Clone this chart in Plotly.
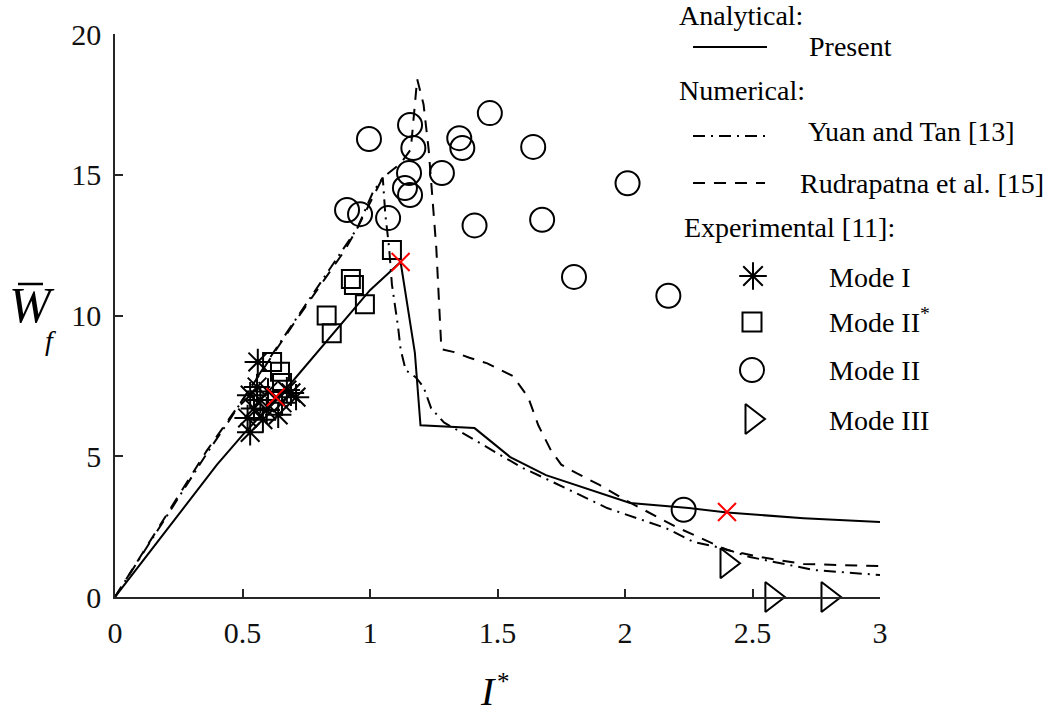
import plotly.graph_objects as go

# ---------------- data ----------------
present_x = [0, 0.4, 0.5, 0.7, 1.0, 1.12, 1.176, 1.198, 1.41, 1.55, 1.69, 1.89, 2.02, 2.25, 2.4, 2.7, 3.0]
present_y = [0, 4.7, 5.75, 7.7, 10.9, 11.9, 8.67, 6.1, 6.0, 4.97, 4.33, 3.73, 3.34, 3.16, 3.0, 2.8, 2.66]

yuan_x = [0, 0.36, 0.45, 0.62, 0.95, 1.01, 1.05, 1.06, 1.075, 1.086, 1.11, 1.12, 1.14, 1.18, 1.21, 1.24,
          1.29, 1.33, 1.41, 1.5, 1.6, 1.69, 1.81, 1.93, 2.16, 2.27, 2.38, 2.49, 2.74, 3.0]
yuan_y = [0, 5.1, 6.3, 8.67, 13.1, 14.35, 14.9, 13.6, 12.4, 11.1, 9.6, 8.8, 8.06, 7.8, 7.46, 6.7,
          6.2, 6.0, 5.58, 5.1, 4.58, 4.2, 3.69, 3.16, 2.45, 1.95, 1.74, 1.42, 0.96, 0.78]

rud_x = [0, 0.36, 0.5, 0.7, 0.9, 0.95, 1.05, 1.12, 1.16, 1.185, 1.21, 1.23, 1.26, 1.28, 1.33, 1.39,
         1.46, 1.56, 1.62, 1.66, 1.71, 1.75, 1.81, 1.9, 2.0, 2.2, 2.4, 2.53, 2.7, 3.0]
rud_y = [0, 5.2, 7.0, 9.7, 12.3, 13.1, 14.9, 15.4, 15.9, 18.4, 17.5, 15.9, 12.4, 8.8, 8.7, 8.5,
         8.3, 7.85, 7.1, 6.1, 5.2, 4.7, 4.4, 3.98, 3.45, 2.49, 1.67, 1.42, 1.17, 1.1]

mode1_x = [0.53, 0.52, 0.545, 0.53, 0.557, 0.56, 0.57, 0.595, 0.64, 0.655, 0.674, 0.69, 0.71, 0.60, 0.58]
mode1_y = [5.85, 6.36, 6.7, 7.17, 7.46, 8.35, 7.0, 6.64, 6.47, 6.9, 7.35, 7.25, 7.1, 7.3, 6.3]

mode2s_x = [0.616, 0.647, 0.655, 0.83, 0.85, 0.925, 0.937, 0.98, 1.086]
mode2s_y = [8.35, 8.0, 7.6, 10.0, 9.37, 11.3, 11.08, 10.4, 12.33]

mode2_x = [0.91, 0.961, 0.996, 1.071, 1.137, 1.153, 1.157, 1.157, 1.17, 1.282, 1.35, 1.362, 1.41,
           1.47, 1.64, 1.675, 1.80, 2.01, 2.17, 2.23]
mode2_y = [13.75, 13.6, 16.27, 13.46, 14.53, 15.06, 14.28, 16.77, 15.95, 15.06, 16.3, 15.95, 13.2,
           17.19, 15.99, 13.4, 11.37, 14.7, 10.7, 3.1]

mode3_x = [2.4, 2.576, 2.796]
mode3_y = [1.2, 0, 0]

redx_x = [0.63, 1.12, 2.4]
redx_y = [7.1, 11.9, 3.02]

x_ticks = [0, 0.5, 1, 1.5, 2, 2.5, 3]
x_ticklabels = ["0", "0.5", "1", "1.5", "2", "2.5", "3"]
y_ticks = [0, 5, 10, 15, 20]
y_ticklabels = ["0", "5", "10", "15", "20"]

legend_labels = ["Present", "Yuan and Tan [13]", "Rudrapatna et al. [15]",
                 "Mode I", "Mode II<sup>*</sup>", "Mode II", "Mode III"]
legend_headers = ["Analytical:", "Numerical:", "Experimental [11]:"]

# ---------------- layout geometry ----------------
W, H = 1049, 715
L, R, T, B = 115, 169, 34, 118
XR = [0, 3]
YR = [0, 20]
PW = W - L - R
PH = H - T - B


def px2x(px):
    return XR[0] + (px - L) / PW * (XR[1] - XR[0])


def py2y(py):
    return YR[0] + (T + PH - py) / PH * (YR[1] - YR[0])


def pxp(px):
    return (px - L) / PW


def pyp(py):
    return (T + PH - py) / PH


FONT = "Liberation Serif, Times New Roman, serif"
BLACK = "#000000"
DASHDOT = "12px,6px,2px,6px"
DASHED = "12px,9px"

fig = go.Figure()

# lines
fig.add_trace(go.Scatter(x=present_x, y=present_y, mode="lines",
                         line=dict(color=BLACK, width=2), showlegend=False))
fig.add_trace(go.Scatter(x=yuan_x, y=yuan_y, mode="lines",
                         line=dict(color=BLACK, width=2, dash=DASHDOT), showlegend=False))
fig.add_trace(go.Scatter(x=rud_x, y=rud_y, mode="lines",
                         line=dict(color=BLACK, width=2, dash=DASHED), showlegend=False))

# markers
mk = dict(mode="markers", showlegend=False, cliponaxis=False)
fig.add_trace(go.Scatter(x=mode1_x, y=mode1_y,
                         marker=dict(symbol="asterisk-open", size=22, color=BLACK,
                                     line=dict(color=BLACK, width=2)), **mk))
fig.add_trace(go.Scatter(x=mode2s_x, y=mode2s_y,
                         marker=dict(symbol="square-open", size=18, color=BLACK,
                                     line=dict(color=BLACK, width=2)), **mk))
fig.add_trace(go.Scatter(x=mode2_x, y=mode2_y,
                         marker=dict(symbol="circle-open", size=24, color=BLACK,
                                     line=dict(color=BLACK, width=2)), **mk))
fig.add_trace(go.Scatter(x=mode3_x, y=mode3_y,
                         marker=dict(symbol="triangle-right-open", size=26, color=BLACK,
                                     line=dict(color=BLACK, width=2)), **mk))
fig.add_trace(go.Scatter(x=redx_x, y=redx_y,
                         marker=dict(symbol="x-thin-open", size=18, color="red",
                                     line=dict(color="red", width=2)), **mk))

# ---------------- manual legend ----------------
leg_lines = [(693, 767, 47, None), (693, 770, 136, DASHDOT), (693, 765, 183, DASHED)]
for x0, x1, yy, dsh in leg_lines:
    fig.add_trace(go.Scatter(x=[px2x(x0), px2x(x1)], y=[py2y(yy), py2y(yy)], mode="lines",
                             line=dict(color=BLACK, width=2, dash=dsh), showlegend=False, hoverinfo="skip"))

leg_syms = [("asterisk-open", 23, 753, 276), ("square-open", 19, 752, 322),
            ("circle-open", 24, 752, 370), ("triangle-right-open", 26, 752, 419)]
for sym, sz, sx, sy in leg_syms:
    fig.add_trace(go.Scatter(x=[px2x(sx)], y=[py2y(sy)], mode="markers", cliponaxis=False,
                             marker=dict(symbol=sym, size=sz, color=BLACK, line=dict(color=BLACK, width=2)),
                             showlegend=False, hoverinfo="skip"))

annotations = []
hdr_pos = [(677, 15), (677, 90), (682, 227)]
lab_pos = [(807, 47), (806, 131), (798, 183), (827, 277), (827, 320), (827, 370), (827, 420)]
for txt, (ax, ay) in list(zip(legend_headers, hdr_pos)) + list(zip(legend_labels, lab_pos)):
    annotations.append(dict(text=txt, x=pxp(ax), y=pyp(ay), xref="paper", yref="paper",
                            xanchor="left", yanchor="middle", showarrow=False,
                            font=dict(family=FONT, size=28, color=BLACK)))

# axis titles
annotations.append(dict(text="<i>I</i>", x=pxp(488), y=pyp(691), xref="paper", yref="paper",
                        xanchor="center", yanchor="middle", showarrow=False,
                        font=dict(family=FONT, size=40, color=BLACK)))
annotations.append(dict(text="*", x=pxp(503), y=pyp(681), xref="paper", yref="paper",
                        xanchor="center", yanchor="middle", showarrow=False,
                        font=dict(family=FONT, size=25, color=BLACK)))
annotations.append(dict(text="<i>W</i>", x=pxp(32), y=pyp(305), xref="paper", yref="paper",
                        xanchor="center", yanchor="middle", showarrow=False,
                        font=dict(family=FONT, size=50, color=BLACK)))
annotations.append(dict(text="<i>f</i>", x=pxp(50), y=pyp(340), xref="paper", yref="paper",
                        xanchor="center", yanchor="middle", showarrow=False,
                        font=dict(family=FONT, size=28, color=BLACK)))

shapes = [dict(type="line", xref="paper", yref="paper", x0=pxp(18), x1=pxp(43), y0=pyp(284), y1=pyp(284),
               line=dict(color=BLACK, width=2.5))]

axis_common = dict(showgrid=False, zeroline=False, showline=True, linecolor="#262626", linewidth=1.5,
                   ticks="inside", ticklen=8, tickwidth=1.5, tickcolor="#262626",
                   tickfont=dict(family=FONT, size=30, color="#111111"))

fig.update_layout(
    width=W, height=H, autosize=False,
    margin=dict(l=L, r=R, t=T, b=B, pad=0),
    plot_bgcolor="white", paper_bgcolor="white",
    showlegend=False,
    xaxis=dict(range=XR, tickvals=x_ticks, ticktext=x_ticklabels, ticklabelstandoff=8, **axis_common),
    yaxis=dict(range=YR, tickvals=y_ticks, ticktext=y_ticklabels, ticklabelstandoff=6, **axis_common),
    annotations=annotations,
    shapes=shapes,
)

fig.write_html("out.html")
